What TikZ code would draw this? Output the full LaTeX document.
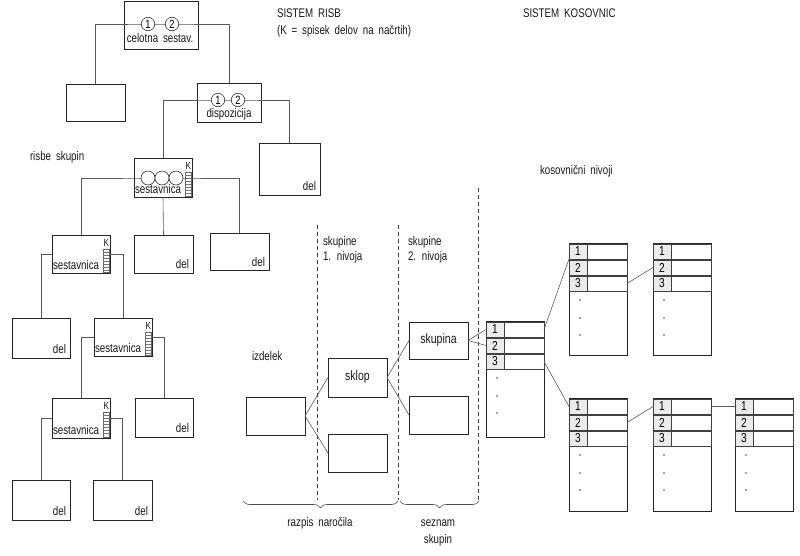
\documentclass[tikz,border=0pt]{standalone}
\usepackage{fontspec}
\setmainfont{Liberation Sans}[FakeStretch=0.78,WordSpace=1.8]
\usetikzlibrary{calc,decorations.pathreplacing}
\newcommand{\klist}[4]{%
  \node[bx,minimum width=58pt,minimum height=#4pt] (#1) at (#2,#3) {};
  \foreach \i in {1,2,3}{%
    \node[rowb] (#1r\i) at ({#2},{#3+1+(\i-1)*16}) {};
    \node[numb] (#1n\i) at ({#2},{#3+1+(\i-1)*16}) {\i};
  }%
  \foreach \d in {57,75,92}{\fill[black!70] ({#2+11},{#3+\d}) circle (0.9pt);}%
}
\newcommand{\sesbox}[4]{% name x y height
  \node[bx,minimum width=58pt,minimum height=#4pt] (#1) at (#2,#3) {};
  \node[tx,anchor=base west] (#1t) at ({#2+1},{#3+#4-4}) {sestavnica};
  \node[tx,anchor=base east,font=\fontsize{10.5}{12}\selectfont] (#1k) at ({#2+57},{#3+11}) {K};
  \draw[black!60,line width=0.4pt] ({#2+51},{#3+14}) rectangle ({#2+57},{#3+#4-1});
  \foreach \s in {3,6,...,21}{\draw[black!55,line width=0.35pt] ({#2+51},{#3+14+\s}) -- ({#2+57},{#3+14+\s});}%
}
\begin{document}
\begin{tikzpicture}[x=1pt,y=-1pt,
  bx/.style={draw=black!85,line width=0.9pt,fill=white,inner sep=0pt,outer sep=0pt,anchor=north west},
  rowb/.style={draw=black!75,line width=0.6pt,minimum width=58pt,minimum height=15pt,inner sep=0pt,outer sep=0pt,anchor=north west},
  numb/.style={draw=black!75,line width=0.6pt,fill=black!8,minimum width=18pt,minimum height=15pt,inner sep=0pt,outer sep=0pt,anchor=north west,font=\fontsize{13}{14}\selectfont},
  ln/.style={draw=black!65,line width=0.6pt},
  tx/.style={inner sep=0pt,outer sep=0pt,font=\fontsize{12.5}{14}\selectfont,text=black!90},
  cnum/.style={circle,draw=black!80,line width=0.6pt,fill=white,minimum size=13.5pt,inner sep=0pt,font=\fontsize{12}{12}\selectfont},
  cemp/.style={circle,draw=black!80,line width=0.6pt,fill=white,minimum size=14pt,inner sep=0pt},
  dsh/.style={draw=black!75,line width=0.8pt,dash pattern=on 4pt off 3pt},
  brc/.style={draw=black!70,line width=0.6pt,decorate,decoration={brace,mirror,amplitude=7pt}}]
\useasboundingbox (0,0) rectangle (800,555);
% ---------- tree boxes
\node[bx,minimum width=74pt,minimum height=48pt] (top) at (124,1) {};
\node[bx,minimum width=59pt,minimum height=37pt] (L0) at (66,84) {};
\node[bx,minimum width=64pt,minimum height=39pt] (disp) at (197,83) {};
\node[bx,minimum width=61pt,minimum height=52pt] (delA) at (259,143) {};
\node[bx,minimum width=58pt,minimum height=39pt] (ses1) at (134,158) {};
\node[bx,minimum width=59pt,minimum height=38pt] (delB) at (134,235) {};
\node[bx,minimum width=59pt,minimum height=37pt] (delC) at (210,233) {};
\node[bx,minimum width=58pt,minimum height=40pt] (delD) at (12,318) {};
\node[bx,minimum width=58pt,minimum height=39pt] (delE) at (135,398) {};
\node[bx,minimum width=58pt,minimum height=40pt] (delF) at (12,480) {};
\node[bx,minimum width=59pt,minimum height=40pt] (delG) at (93,480) {};
\sesbox{ses2}{52}{235}{38}
\sesbox{ses3}{94}{318}{38}
\sesbox{ses4}{52}{398}{40}
% ---------- tree connectors
\coordinate (topc) at (160,24);
\coordinate (dc) at (229,100);
\coordinate (s1c) at (163,178);
\draw[ln] (L0.north) |- (topc) -| (disp.north);
\draw[ln] (ses1.north) |- (dc) -| (delA.north);
\draw[ln] (ses2.north) |- (s1c) -| (delC.north);
\draw[ln] (ses1.south) -- (delB.north);
\draw[ln] (delD.north) |- (ses2.west);
\draw[ln] (ses2.east) -| (ses3.north);
\draw[ln] (ses4.north) |- (ses3.west);
\draw[ln] (ses3.east) -| (delE.north);
\draw[ln] (delF.north) |- (ses4.west);
\draw[ln] (ses4.east) -| (delG.north);
% ---------- tree texts
\node[cnum] (c1) at (148,24) {1};
\node[cnum] (c2) at (172,24) {2};
\node[tx,anchor=base] (ttop) at (160,42) {celotna sestav.};
\node[cnum] (d1) at (218,100) {1};
\node[cnum] (d2) at (238,100) {2};
\node[tx,anchor=base] (tdisp) at (229,117) {dispozicija};
\node[cemp] (e1) at (148,178) {};
\node[cemp] (e2) at (162,178) {};
\node[cemp] (e3) at (176,178) {};
\node[tx,anchor=base west] (ses1t) at (135,193) {sestavnica};
\node[tx,anchor=base east,font=\fontsize{10.5}{12}\selectfont] (ses1k) at (191,169) {K};
\draw[black!60,line width=0.4pt] (185,172) rectangle (191,196);
\foreach \s in {3,6,...,21}{\draw[black!55,line width=0.35pt] (185,172+\s) -- (191,172+\s);}
\node[tx,anchor=base east] (tdelA) at (316,190) {del};
\node[tx,anchor=base east] (tdelB) at (189,268) {del};
\node[tx,anchor=base east] (tdelC) at (265,266) {del};
\node[tx,anchor=base east] (tdelD) at (66,353) {del};
\node[tx,anchor=base east] (tdelE) at (189,432) {del};
\node[tx,anchor=base east] (tdelF) at (66,515) {del};
\node[tx,anchor=base east] (tdelG) at (148,515) {del};
% ---------- headings
\node[tx,anchor=base west] (h1) at (277,17) {SISTEM RISB};
\node[tx,anchor=base west] (h2) at (277,34) {(K = spisek delov na načrtih)};
\node[tx,anchor=base west] (h3) at (523,17) {SISTEM KOSOVNIC};
\node[tx,anchor=base west] (h4) at (30,160) {risbe skupin};
\node[tx,anchor=base west] (h5) at (540,174) {kosovnični nivoji};
% ---------- middle section
\coordinate (d1t) at (317,225); \coordinate (d1b) at (317,500);
\coordinate (d2t) at (398,225); \coordinate (d2b) at (398,500);
\coordinate (d3t) at (478,188); \coordinate (d3b) at (478,500);
\draw[dsh] (d1t) -- (d1b);
\draw[dsh] (d2t) -- (d2b);
\draw[dsh] (d3t) -- (d3b);
\node[tx,anchor=base west] (sk1a) at (323,245) {skupine};
\node[tx,anchor=base west] (sk1b) at (323,260) {1. nivoja};
\node[tx,anchor=base west] (sk2a) at (408,245) {skupine};
\node[tx,anchor=base west] (sk2b) at (408,260) {2. nivoja};
\node[tx,anchor=base west] (tizd) at (252,360) {izdelek};
\node[bx,minimum width=59pt,minimum height=38pt] (izd) at (246,397) {};
\node[bx,minimum width=59pt,minimum height=39pt] (sklop) at (328,358) {};
\node[bx,minimum width=59pt,minimum height=38pt] (lowA) at (328,434) {};
\node[bx,minimum width=59pt,minimum height=37pt] (skup) at (409,322) {};
\node[bx,minimum width=59pt,minimum height=38pt] (lowB) at (409,396) {};
\node[tx,font=\fontsize{13.5}{14}\selectfont] (tsklop) at (sklop.center) {sklop};
\node[tx,font=\fontsize{13.5}{14}\selectfont] (tskup) at (skup.center) {skupina};
\draw[ln] (izd.east) -- (sklop.west);
\draw[ln] (izd.east) -- (lowA.west);
\draw[ln] (sklop.east) -- (skup.west);
\draw[ln] (sklop.east) -- (lowB.west);
\coordinate (b1a) at (243,501); \coordinate (b1b) at (398,501);
\coordinate (b2a) at (400,501); \coordinate (b2b) at (479,501);
\draw[brc] (b1a) -- (b1b);
\draw[brc] (b2a) -- (b2b);
\node[tx,anchor=base] (traz) at (320,526) {razpis naročila};
\node[tx,anchor=base] (tsez) at (438,526) {seznam};
\node[tx,anchor=base] (tsku) at (438,543) {skupin};
% ---------- lists
\klist{LL}{486}{321}{116}
\klist{U1}{569}{243}{112}
\klist{U2}{653}{243}{112}
\klist{D1}{569}{398}{113}
\klist{D2}{653}{398}{113}
\klist{D3}{735}{398}{113}
\draw[ln] (skup.east) -- (LLr1.west);
\draw[ln] (skup.east) -- (LLr2.west);
\draw[ln] (LLr1.east) -- (U1r1.south west);
\draw[ln] (LLr3.east) -- (D1r1.west);
\draw[ln] (U1r3.east) -- (U2r2.west);
\draw[ln] (D1r2.east) -- (D2r1.west);
\draw[ln] (D2r1.east) -- (D3r1.west);
\end{tikzpicture}
\end{document}
